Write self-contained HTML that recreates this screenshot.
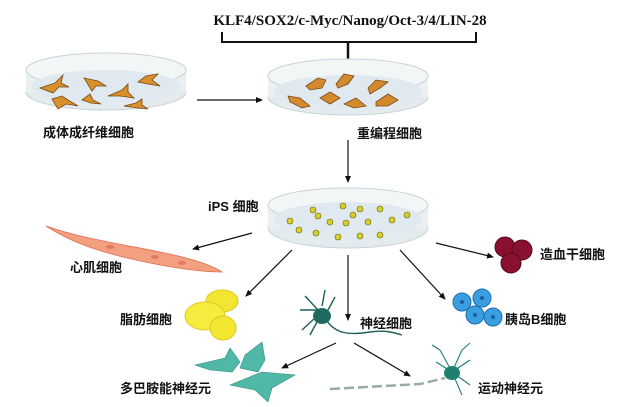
<!DOCTYPE html>
<html><head><meta charset="utf-8"><style>
html,body{margin:0;padding:0;background:#fff;}
svg{display:block;}
text{font-family:"Liberation Sans","Noto Sans CJK SC",sans-serif;font-weight:bold;font-size:13px;fill:#111;}
.ser{font-family:"Liberation Serif","Noto Serif CJK SC",serif;font-size:15px;}
</style></head><body>
<svg width="640" height="407" viewBox="0 0 640 407" xmlns="http://www.w3.org/2000/svg">
<defs>
<marker id="ah" markerWidth="8" markerHeight="8" refX="6" refY="3" orient="auto" markerUnits="userSpaceOnUse"><path d="M0,0 L7,3 L0,6 Z" fill="#111"/></marker>
<marker id="ah2" markerWidth="12" markerHeight="12" refX="9" refY="5" orient="auto" markerUnits="userSpaceOnUse"><path d="M0,0 L10,5 L0,10 Z" fill="#111"/></marker>
</defs>
<text x="350" y="25" text-anchor="middle" class="ser">KLF4/SOX2/c-Myc/Nanog/Oct-3/4/LIN-28</text>
<path d="M222,32 V42 H476 V32" fill="none" stroke="#111" stroke-width="2"/>
<line x1="348" y1="42" x2="348" y2="74" stroke="#111" stroke-width="2.5" marker-end="url(#ah2)"/>
<!-- dish 1 -->
<g>
<ellipse cx="106" cy="92" rx="80" ry="18" fill="#e3ebee" stroke="#c8d3d8"/>
<rect x="26" y="70" width="160" height="22" fill="#eaf0f2"/>
<ellipse cx="106" cy="70" rx="80" ry="17" fill="#f3f6f7" stroke="#c8d3d8"/>
<ellipse cx="106" cy="86" rx="74" ry="16" fill="#dfe9ef"/>
<g fill="#d9902c" stroke="#7a4a14" stroke-width="0.8">
<path d="M40,88 l15,-5 l8,-8 l-2,8 l8,4 l-10,0 l-6,6 z"/>
<path d="M84,78 l14,3 l8,5 l-10,0 l-4,5 z"/>
<path d="M138,82 l8,-6 l12,-2 l-6,6 l8,6 l-12,-2 z"/>
<path d="M52,99 l10,-3 l6,4 l10,6 l-12,-2 l-8,5 z"/>
<path d="M82,100 l8,-6 l3,6 l8,4 l-10,-1 z"/>
<path d="M108,96 l14,-6 l6,-6 l0,8 l6,6 l-14,-2 z"/>
<path d="M124,106 l12,-3 l6,-4 l0,6 l6,4 l-10,-1 z"/>
</g>
</g>
<line x1="197" y1="100" x2="262" y2="100" stroke="#111" stroke-width="1.2" marker-end="url(#ah)"/>
<!-- dish 2 -->
<g>
<ellipse cx="348" cy="97" rx="80" ry="18" fill="#e3ebee" stroke="#c8d3d8"/>
<rect x="268" y="76" width="160" height="21" fill="#eaf0f2"/>
<ellipse cx="348" cy="76" rx="80" ry="17" fill="#f3f6f7" stroke="#c8d3d8"/>
<ellipse cx="348" cy="91" rx="74" ry="16" fill="#dfe9ef"/>
<g fill="#d38a2c" stroke="#7a4a14" stroke-width="0.8">
<path d="M306,86 l12,-8 l8,2 l-4,8 l-12,2 z"/>
<path d="M336,84 l8,-10 l10,2 l-6,8 l-10,4 z"/>
<path d="M368,88 l8,-8 l12,2 l-8,6 l-10,6 z"/>
<path d="M288,96 l12,2 l10,8 l-8,2 l-12,-6 z"/>
<path d="M320,98 l10,-6 l10,6 l-10,6 z"/>
<path d="M344,104 l12,-6 l10,8 l-12,2 z"/>
<path d="M376,102 l12,-8 l10,6 l-10,6 l-12,0 z"/>
</g>
</g>
<text x="43" y="137">成体成纤维细胞</text>
<text x="357" y="138">重编程细胞</text>
<line x1="348" y1="140" x2="348" y2="182" stroke="#111" stroke-width="1.2" marker-end="url(#ah)"/>
<!-- iPS dish -->
<g>
<ellipse cx="348" cy="228" rx="80" ry="20" fill="#e3ebee" stroke="#c8d3d8"/>
<rect x="268" y="205" width="160" height="23" fill="#eaf0f2"/>
<ellipse cx="348" cy="205" rx="80" ry="17" fill="#f3f6f7" stroke="#c8d3d8"/>
<ellipse cx="348" cy="219" rx="74" ry="17" fill="#dfe9ef"/>
<g fill="#d6cf2a" stroke="#6b6410" stroke-width="0.6">
<circle cx="313" cy="210" r="3"/><circle cx="343" cy="206" r="3"/><circle cx="360" cy="209" r="3"/><circle cx="380" cy="209" r="3"/><circle cx="353" cy="215" r="3"/>
<circle cx="290" cy="221" r="3"/><circle cx="318" cy="216" r="3"/><circle cx="330" cy="222" r="3"/><circle cx="346" cy="223" r="3"/><circle cx="368" cy="222" r="3"/><circle cx="392" cy="220" r="3"/><circle cx="407" cy="215" r="3"/>
<circle cx="299" cy="230" r="3"/><circle cx="316" cy="233" r="3"/><circle cx="338" cy="237" r="3"/><circle cx="360" cy="236" r="3"/><circle cx="380" cy="235" r="3"/>
</g>
</g>
<text x="208" y="211">iPS 细胞</text>
<g stroke="#111" stroke-width="1.2" fill="none">
<line x1="252" y1="233" x2="193" y2="249" marker-end="url(#ah)"/>
<line x1="292" y1="250" x2="246" y2="296" marker-end="url(#ah)"/>
<line x1="348" y1="255" x2="348" y2="320" marker-end="url(#ah)"/>
<line x1="400" y1="250" x2="445" y2="299" marker-end="url(#ah)"/>
<line x1="436" y1="243" x2="493" y2="257" marker-end="url(#ah)"/>
<line x1="336" y1="343" x2="282" y2="368" marker-end="url(#ah)"/>
<line x1="354" y1="343" x2="410" y2="376" marker-end="url(#ah)"/>
</g>
<!-- cardiac -->
<path d="M46,226 C80,238 120,244 160,252 C190,258 210,264 222,272 C200,272 175,268 150,263 C110,255 75,245 46,226 Z" fill="#f2a080" stroke="#e07050" stroke-width="0.8"/>
<ellipse cx="110" cy="247" rx="4" ry="2" fill="#e07a60"/><ellipse cx="155" cy="257" rx="4" ry="2" fill="#e07a60"/><ellipse cx="182" cy="263" rx="4" ry="2" fill="#e07a60"/>
<text x="70" y="272">心肌细胞</text>
<!-- fat -->
<ellipse cx="222" cy="301" rx="16" ry="11" fill="#f3e630" stroke="#e0c820"/>
<ellipse cx="205" cy="316" rx="20" ry="14" fill="#f6ec40" stroke="#e0c820"/>
<ellipse cx="223" cy="328" rx="13" ry="12" fill="#f3e630" stroke="#e0c820"/>
<text x="120" y="324">脂肪细胞</text>
<!-- neuron -->
<g stroke="#1f5f56" stroke-width="1.4" fill="none">
<path d="M325,318 C335,335 350,335 370,332 C385,330 392,332 402,335"/>
<path d="M318,310 L305,296 M318,310 L300,310 M322,306 L325,290 M328,310 L335,297 M315,318 L302,330 M318,320 L310,335"/>
</g>
<ellipse cx="322" cy="316" rx="9" ry="8" fill="#1f6a5f"/>
<text x="360" y="328">神经细胞</text>
<!-- blood -->
<circle cx="505" cy="247" r="10" fill="#8a1030" stroke="#5a0820"/>
<circle cx="522" cy="250" r="10" fill="#8a1030" stroke="#5a0820"/>
<circle cx="511" cy="263" r="10" fill="#8a1030" stroke="#5a0820"/>
<text x="540" y="259">造血干细胞</text>
<!-- beta -->
<g fill="#3a9ee0" stroke="#1a6fb0">
<circle cx="462" cy="302" r="9"/><circle cx="482" cy="298" r="9"/><circle cx="475" cy="315" r="9"/><circle cx="493" cy="317" r="9"/>
</g>
<g fill="#1a5fa0"><circle cx="462" cy="302" r="2"/><circle cx="482" cy="298" r="2"/><circle cx="475" cy="315" r="2"/><circle cx="493" cy="317" r="2"/></g>
<text x="505" y="324">胰岛B细胞</text>
<!-- dopaminergic -->
<g fill="#4fb8a6" stroke="#2f8f80" stroke-width="0.6">
<path d="M195,365 L225,358 L230,348 L240,362 L232,372 L210,370 Z"/>
<path d="M245,355 L262,342 L265,360 L258,372 L240,368 Z"/>
<path d="M230,385 L262,372 L295,375 L272,388 L268,402 L255,390 Z"/>
</g>
<text x="120" y="393">多巴胺能神经元</text>
<!-- motor neuron -->
<path d="M330,389 L420,384 L445,378" stroke="#9aa" stroke-width="2.5" fill="none" stroke-dasharray="10,4"/>
<g stroke="#1f7f70" stroke-width="1.1" fill="none">
<path d="M452,372 L440,350 M452,372 L462,350 M452,372 L470,360 M452,372 L470,385 M452,372 L462,395 M452,372 L436,362 M440,350 L432,345 M462,350 L470,343"/>
</g>
<ellipse cx="452" cy="373" rx="8" ry="7" fill="#1f7f70"/>
<text x="478" y="393">运动神经元</text>
</svg>
</body></html>
